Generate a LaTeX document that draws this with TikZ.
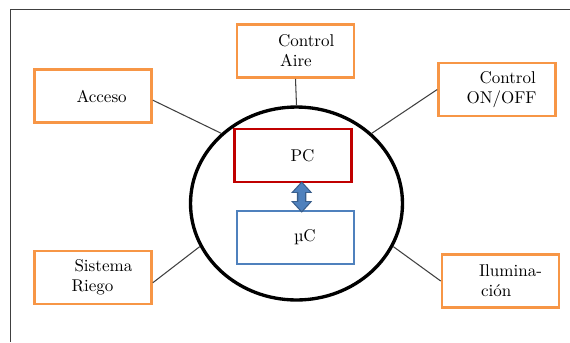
\documentclass[tikz,border=0pt]{standalone}
\usepackage{fontspec}
\usepackage{tikz}
\usetikzlibrary{shapes.geometric,arrows.meta}
\definecolor{boxorange}{HTML}{F79646}
\definecolor{pcred}{HTML}{C00000}
\definecolor{ucblue}{HTML}{4F81BD}
\definecolor{arrowedge}{HTML}{385D8A}

\begin{document}
\begin{tikzpicture}[x=0.02cm,y=-0.02cm,
    box/.style={draw=boxorange, line width=1.5pt, minimum width=2.34cm, minimum height=1.06cm,
      text width=2.34cm, inner xsep=0pt, align=left, font=\fontsize{9.7}{11.3}\selectfont},
    link/.style={black!75, line width=0.6pt}]

  \useasboundingbox (0,0) rectangle (570,342);
  \draw[black!75, line width=0.75pt] (570,9.5) -- (10.5,9.5) -- (10.5,342);

  \node[box] (acceso) at (93,96) {\hspace*{0.84cm}Acceso};
  \node[box] (aire) at (295.5,51) {\hspace*{0.82cm}Control\\\hspace*{0.86cm}Aire};
  \node[box] (onoff) at (497,89.5) {\hspace*{0.82cm}Control\\\hspace*{0.56cm}ON/OFF};
  \node[box] (riego) at (93,277.5) {\hspace*{0.80cm}Sistema\\\hspace*{0.74cm}Riego};
  \node[box] (ilum) at (500.5,281) {\hspace*{0.74cm}Ilumina-\\\hspace*{0.78cm}ción};

  \node[draw, ellipse, line width=1.9pt, minimum width=4.24cm, minimum height=3.86cm] (sys) at (296.5,203.5) {};
  \node[box, draw=pcred] (pc) at (293,155.5) {\hspace*{1.12cm}PC};
  \node[box, draw=ucblue] (uc) at (295.5,237.5) {\hspace*{1.14cm}µC};

  \draw[link] (aire.south) -- (sys.90);
  \draw[link] (acceso.-4) -- (sys.137);
  \draw[link] (onoff.west) -- (sys.43);
  \draw[link] (riego.-5) -- (sys.204);
  \draw[link] (ilum.west) -- (sys.336);

  \draw[arrowedge, line width=0.19cm, shorten <=-0.04cm, shorten >=-0.06cm,
    {Triangle[width=0.42cm,length=0.23cm,line width=0pt]}-{Triangle[width=0.42cm,length=0.23cm,line width=0pt]}]
    ([xshift=0.174cm]pc.south) -- ([xshift=0.124cm]uc.north);
  \draw[ucblue, line width=0.13cm, shorten <=-0.005cm, shorten >=-0.025cm,
    {Triangle[width=0.33cm,length=0.18cm,line width=0pt]}-{Triangle[width=0.33cm,length=0.18cm,line width=0pt]}]
    ([xshift=0.174cm]pc.south) -- ([xshift=0.124cm]uc.north);

\end{tikzpicture}
\end{document}
